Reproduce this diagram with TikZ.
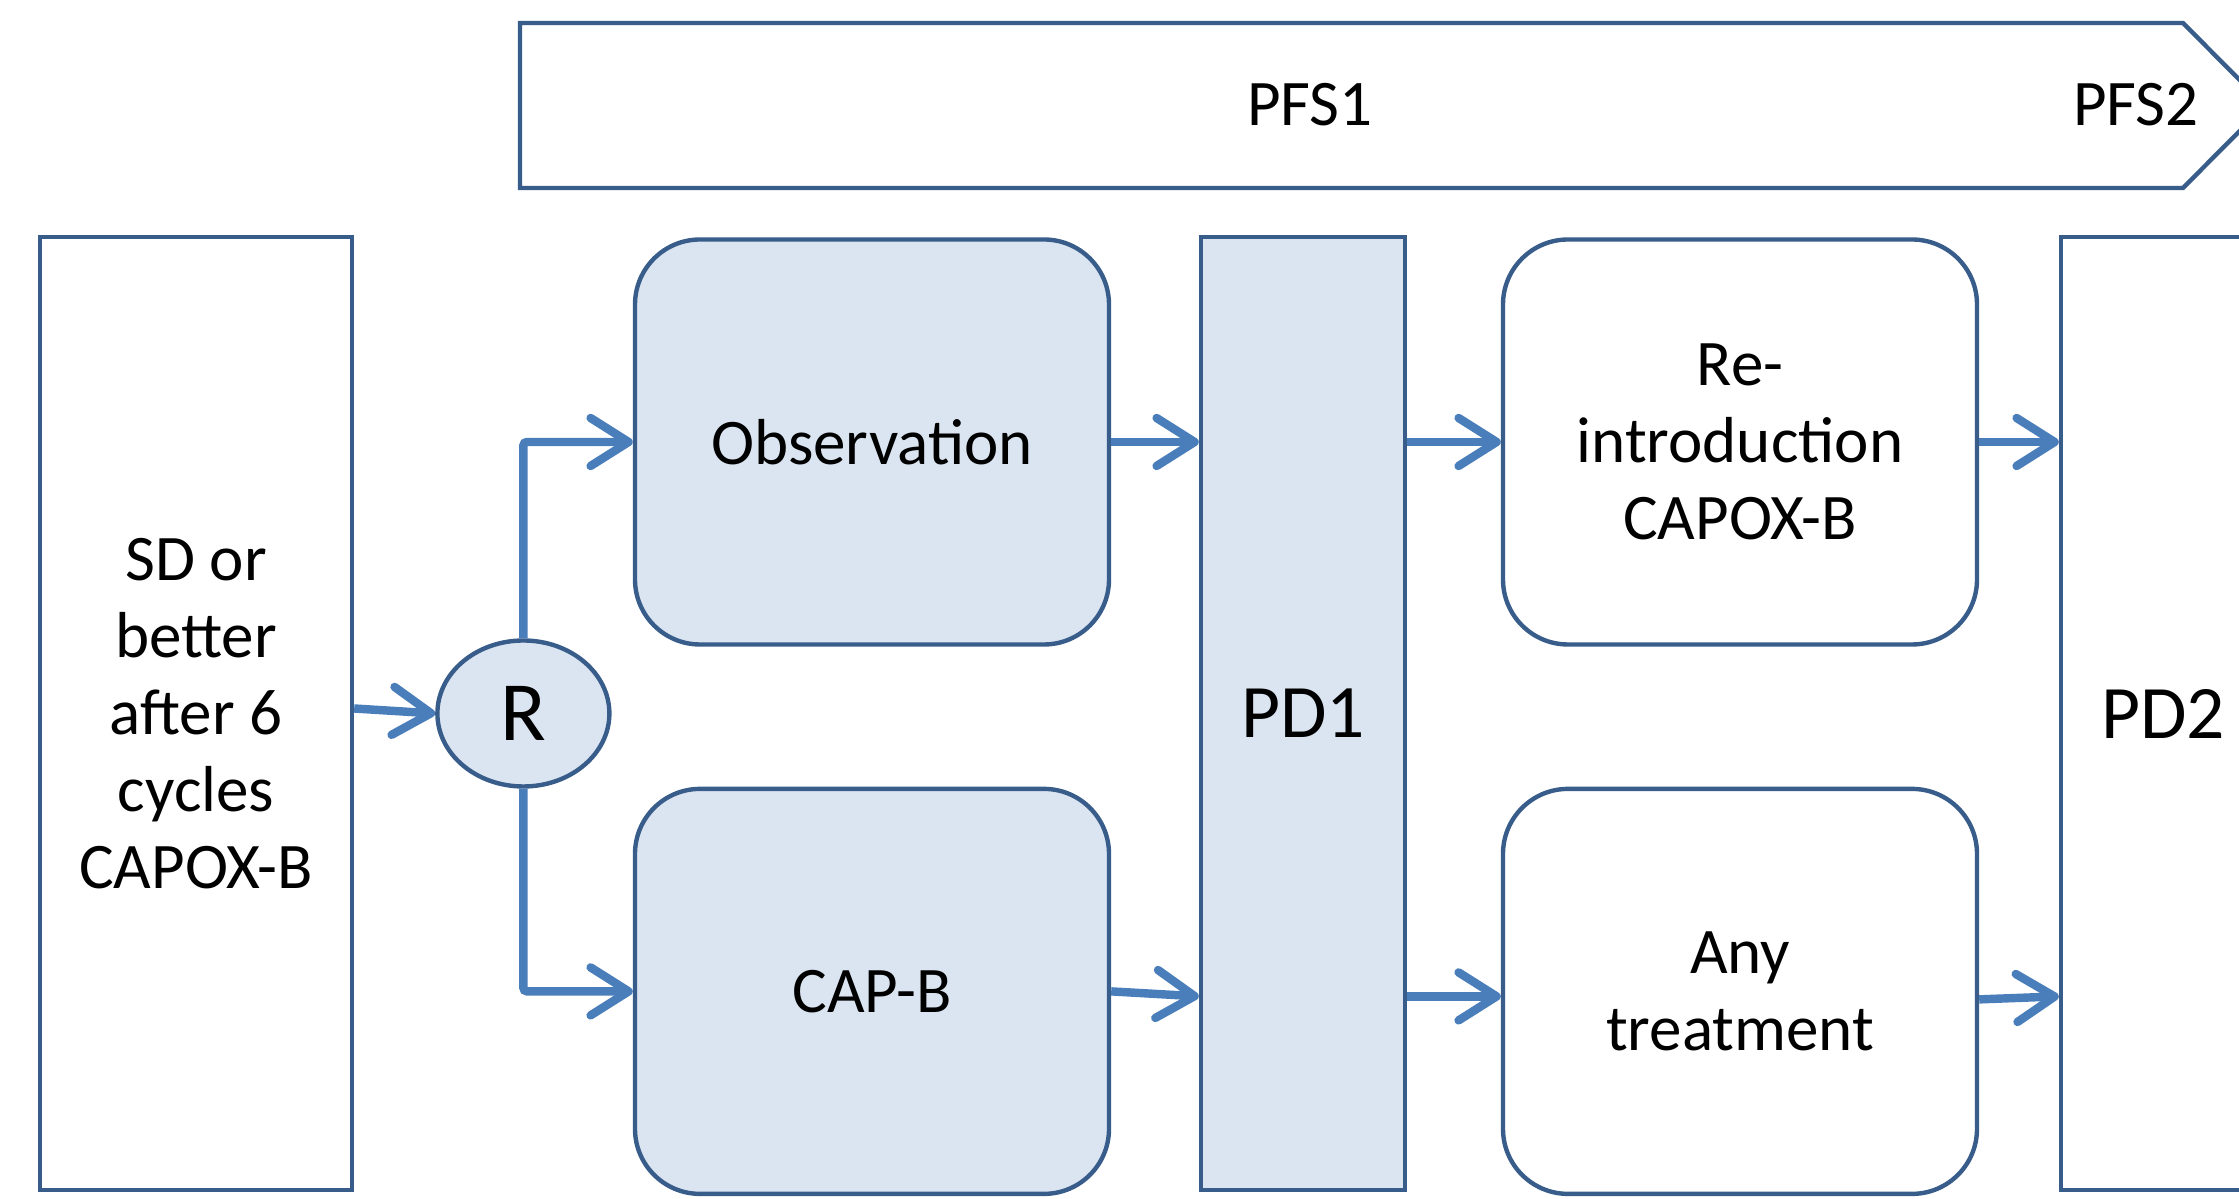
\documentclass[tikz,border=0pt]{standalone}
\usepackage{fontspec}
\setmainfont{Carlito}
\usetikzlibrary{arrows.meta,shapes.geometric,positioning,calc}

\definecolor{edgeblue}{RGB}{56,93,138}
\definecolor{arrowblue}{RGB}{74,126,187}
\definecolor{paleblue}{RGB}{219,229,241}

\begin{document}
\begin{tikzpicture}[
    node distance=1.4cm,
    plainbox/.style={rectangle,draw=edgeblue,line width=1.25pt,inner sep=0pt,align=center,font=\fontsize{18.5}{21.9}\selectfont},
    roundbox/.style={plainbox,rounded corners=0.65cm,minimum width=4.74cm,minimum height=4.05cm},
    pdbar/.style={plainbox,minimum width=2.04cm,minimum height=9.53cm,font=\fontsize{21.5}{25}\selectfont},
    link/.style={line width=2.4pt,draw=arrowblue,-{Straight Barb[length=0.38cm,width=0.48cm,round]}}
]
    \useasboundingbox (0,0) rectangle (22.39,-11.99);

    % timeline banner
    \draw[edgeblue,line width=1.25pt,fill=white] (5.20,-0.23) -- (21.83,-0.23) -- (22.65,-1.055) -- (21.83,-1.88) -- (5.20,-1.88) -- cycle;
    \node[font=\fontsize{18.5}{21.9}\selectfont] (pfsone) at (13.10,-1.05) {PFS1};
    \node[font=\fontsize{18.5}{21.9}\selectfont] (pfstwo) at (21.36,-1.05) {PFS2};

    \node[plainbox,minimum width=3.12cm,minimum height=9.53cm] (incl) at (1.96,-7.135) {SD or\\better\\after 6\\cycles\\CAPOX-B};
    \node[ellipse,draw=edgeblue,line width=1.25pt,fill=paleblue,inner sep=0pt,minimum width=1.72cm,minimum height=1.46cm,font=\fontsize{24}{28}\selectfont,right=0.81cm of incl] (rand) {R};

    \node[roundbox,fill=paleblue] (obs) at (8.72,-4.42) {Observation};
    \node[roundbox,fill=paleblue,below=of obs] (capb) {CAP-B};

    \node[pdbar,fill=paleblue] (pdone) at (13.03,-7.135) {PD1};

    \node[roundbox,fill=white] (reintro) at (17.40,-4.42) {Re-\\introduction\\CAPOX-B};
    \node[roundbox,fill=white,below=of reintro] (anytx) {Any\\treatment};

    \node[pdbar,fill=white] (pdtwo) at (21.63,-7.135) {PD2};

    \draw[link] ($(incl.east)+(0,0.05)$) -- (rand.west);
    \draw[link,rounded corners=1pt] (rand.north) |- (obs.west);
    \draw[link,rounded corners=1pt] (rand.south) |- (capb.west);
    \draw[link] (obs.east) -- (obs.east -| pdone.west);
    \draw[link] (capb.east) -- ($(capb.east -| pdone.west)+(0,-0.05)$);
    \draw[link] (reintro.west -| pdone.east) -- (reintro.west);
    \draw[link] ($(anytx.west -| pdone.east)+(0,-0.05)$) -- ($(anytx.west)+(0,-0.05)$);
    \draw[link] (reintro.east) -- (reintro.east -| pdtwo.west);
    \draw[link] ($(anytx.east)+(0,-0.08)$) -- ($(anytx.east -| pdtwo.west)+(0,-0.05)$);
\end{tikzpicture}
\end{document}
